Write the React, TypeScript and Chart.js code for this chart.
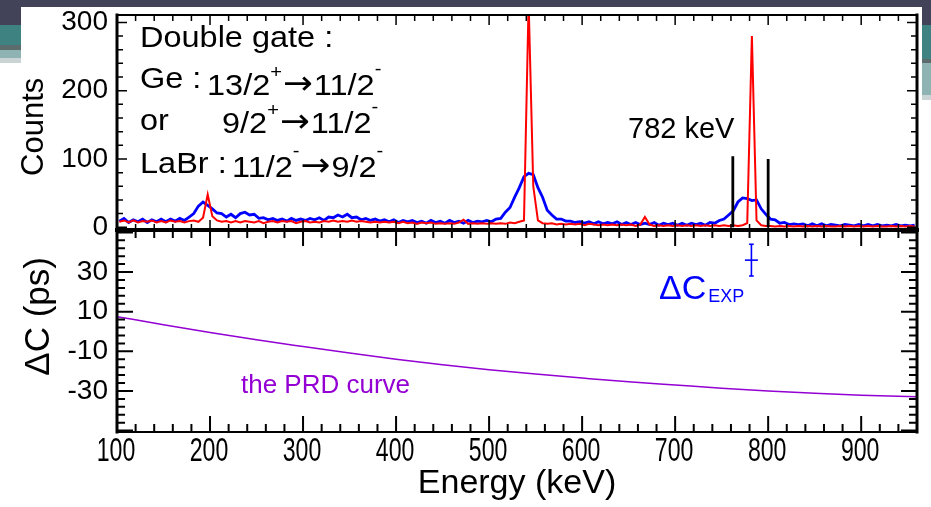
import React, { useEffect, useRef } from 'react';
import { Chart, registerables } from 'chart.js';

Chart.register(...registerables);

// ---------------- data ----------------
const BIN_START_KEV = 100;
const BIN_WIDTH_KEV = 5;

// LaBr-gated spectrum (blue), counts per 5 keV bin starting at 100 keV
const blueCounts = [
  9, 13, 7, 11, 8, 12, 7, 11, 8, 12,
  8, 12, 9, 13, 10, 15, 20, 31, 37, 32,
  27, 21, 20, 15, 19, 14, 20, 22, 18, 19,
  13, 14, 11, 13, 10, 12, 9, 13, 10, 12,
  10, 13, 11, 14, 10, 15, 14, 18, 15, 19,
  14, 15, 11, 13, 10, 12, 9, 11, 8, 11,
  7, 10, 8, 10, 7, 9, 6, 10, 7, 9,
  6, 10, 7, 9, 6, 10, 7, 9, 8, 10,
  8, 12, 13, 22, 29, 44, 58, 74, 79, 77,
  58, 44, 25, 18, 12, 12, 9, 9, 7, 8,
  6, 8, 5, 8, 5, 7, 5, 8, 4, 7,
  4, 7, 4, 6, 4, 7, 3, 6, 4, 6,
  3, 6, 3, 6, 4, 6, 3, 7, 6, 10,
  12, 18, 24, 37, 43, 42, 39, 40, 27, 19,
  12, 11, 6, 7, 4, 5, 4, 5, 2, 5,
  2, 5, 2, 4, 3, 2, 4, 3, 2, 4,
  2, 4, 2, 4, 2, 3, 2, 4, 2, 3,
  2, 3,
];

// Ge-gated spectrum (red), same binning
const redCounts = [
  8, 10, 7, 10, 7, 9, 8, 10, 7, 9,
  7, 10, 8, 9, 7, 9, 10, 8, 14, 48,
  16, 10, 8, 9, 7, 9, 7, 9, 8, 7,
  9, 6, 8, 9, 7, 9, 8, 9, 6, 8,
  9, 7, 8, 7, 9, 8, 10, 8, 9, 8,
  10, 8, 9, 8, 7, 8, 7, 8, 7, 8,
  6, 8, 6, 7, 5, 7, 6, 7, 5, 6,
  5, 6, 5, 7, 11, 5, 6, 5, 6, 5,
  6, 5, 6, 5, 7, 6, 8, 10, 330, 60,
  10, 6, 5, 6, 4, 5, 4, 5, 4, 5,
  3, 5, 4, 3, 4, 3, 4, 3, 4, 3,
  4, 2, 4, 15, 4, 2, 3, 2, 3, 2,
  3, 2, 3, 2, 3, 2, 3, 2, 3, 2,
  3, 2, 3, 2, 3, 6, 280, 10, 3, 2,
  2, 1, 2, 1, 2, 1, 2, 1, 2, 1,
  2, 1, 2, 1, 1, 2, 1, 2, 1, 2,
  1, 2, 1, 2, 1, 1, 2, 1, 2, 1,
  2, 1,
];

const energyTickValues = [100, 200, 300, 400, 500, 600, 700, 800, 900];
const countTickValues = [0, 100, 200, 300];
const deltaCTickValues = [-30, -10, 10, 30];

// gate markers around the 782 keV line
const gateEnergies = [762, 800];
const gateHeights = [104, 100];

// PRD curve
const prdEnergies = [100, 150, 200, 250, 300, 350, 400, 450, 500, 550, 600, 650, 700, 750, 800, 850, 900, 960];
const prdDeltaC = [7.5, 3.4, -0.5, -4.2, -7.6, -10.9, -14.0, -16.8, -19.3, -21.5, -23.5, -25.4, -27.0, -28.6, -30.0, -31.2, -32.1, -32.9];

// experimental point
const expEnergy = [782];
const expDeltaC = [36];
const expErrDeltaC = [8];
const expErrEnergy = [7];
const expCapHalf = 2.5;

const X_MIN = 100;
const X_MAX = 960;
const COUNTS_MIN = -4;
const COUNTS_MAX = 310.8;
const DC_MIN = -50.7;
const DC_MAX = 51.2;

// ---------------- styles ----------------
const SANS = "'Liberation Sans', Arial, Helvetica, sans-serif";
const ARROW_FONT = "'DejaVu Sans', 'Liberation Sans', sans-serif";
const W = 931;
const H = 507;
const PLOT_LEFT = 117;
const PLOT_RIGHT_PAD = 14;
const TOP_PANEL_TOP = 15;
const SPLIT_Y = 230;
const BOTTOM_AXIS_H = 75;

function drawText(ctx: CanvasRenderingContext2D, text: string, x: number, y: number, size: number, color: string, sx = 1, family = SANS, align: CanvasTextAlign = 'left', baseline: CanvasTextBaseline = 'alphabetic') {
  ctx.save();
  ctx.font = `${size}px ${family}`;
  ctx.fillStyle = color;
  ctx.textBaseline = baseline;
  ctx.textAlign = align;
  ctx.translate(x, y);
  ctx.scale(sx, 1);
  ctx.fillText(text, 0, 0);
  const w = ctx.measureText(text).width * sx;
  ctx.restore();
  return w;
}

type Part = { t: string; sup?: number; arrow?: boolean };
function drawFormula(ctx: CanvasRenderingContext2D, parts: Part[], x: number, y: number) {
  let cx = x;
  for (const p of parts) {
    if (p.sup) cx += drawText(ctx, p.t, cx, y - p.sup, 18, '#000', 1.12);
    else if (p.arrow) cx += drawText(ctx, p.t, cx + 1, y - 1, 33, '#000', 1.08, ARROW_FONT) + 2;
    else cx += drawText(ctx, p.t, cx, y, 29, '#000', 1.12);
  }
}

function drawFrame(chart: any, o: { yFrom: number; yTo: number; yStep: number; isMajor: (v: number) => boolean; major: number; minor: number; tickW: number; topW: number; bottomW: number }) {
  const { ctx, chartArea: a, scales } = chart;
  const xs = scales.x;
  const ys = scales.y;
  ctx.save();
  ctx.strokeStyle = '#000';
  ctx.lineWidth = o.tickW;
  ctx.beginPath();
  for (let e = X_MIN + 20; e < X_MAX; e += 20) {
    const px = xs.getPixelForValue(e);
    const len = e % 100 === 0 ? o.major : o.minor;
    ctx.moveTo(px, a.top);
    ctx.lineTo(px, a.top + len);
    ctx.moveTo(px, a.bottom);
    ctx.lineTo(px, a.bottom - len);
  }
  for (let v = o.yFrom; v <= o.yTo; v += o.yStep) {
    const py = ys.getPixelForValue(v);
    if (py < a.top + 1 || py > a.bottom - 1) continue;
    const len = o.isMajor(v) ? o.major : o.minor;
    ctx.moveTo(a.left, py);
    ctx.lineTo(a.left + len, py);
    ctx.moveTo(a.right, py);
    ctx.lineTo(a.right - len, py);
  }
  ctx.stroke();
  const line = (x1: number, y1: number, x2: number, y2: number, w: number) => {
    ctx.lineWidth = w;
    ctx.beginPath();
    ctx.moveTo(x1, y1);
    ctx.lineTo(x2, y2);
    ctx.stroke();
  };
  ctx.lineCap = 'square';
  if (o.topW) line(a.left, a.top, a.right, a.top, o.topW);
  if (o.bottomW) line(a.left, a.bottom, a.right, a.bottom, o.bottomW);
  line(a.left, a.top, a.left, a.bottom, 3);
  line(a.right, a.top, a.right, a.bottom, 3);
  ctx.restore();
}

const topPlugin = {
  id: 'topPanelDecor',
  afterDraw(chart: any) {
    const ctx: CanvasRenderingContext2D = chart.ctx;
    drawFrame(chart, {
      yFrom: 0, yTo: 300, yStep: 20, isMajor: (v) => v % 100 === 0,
      major: 10, minor: 6, tickW: 1.5, topW: 2, bottomW: 4,
    });
    drawText(ctx, 'Double gate :', 140, 46.5, 29, '#000', 1.12);
    drawText(ctx, 'Ge :', 140, 88, 29, '#000', 1.12);
    drawFormula(ctx, [{ t: '13/2' }, { t: '+', sup: 17 }, { t: '\u2192', arrow: true }, { t: '11/2' }, { t: '-', sup: 20 }], 207, 95);
    drawText(ctx, 'or', 140, 130, 29, '#000', 1.12);
    drawFormula(ctx, [{ t: '9/2' }, { t: '+', sup: 17 }, { t: '\u2192', arrow: true }, { t: '11/2' }, { t: '-', sup: 20 }], 222, 133);
    drawText(ctx, 'LaBr :', 140, 173, 29, '#000', 1.12);
    drawFormula(ctx, [{ t: '11/2' }, { t: '-', sup: 20 }, { t: '\u2192', arrow: true }, { t: '9/2' }, { t: '-', sup: 20 }], 232, 177);
    drawText(ctx, '782 keV', 628, 138, 29, '#000', 1);
  },
};

const bottomPlugin = {
  id: 'bottomPanelDecor',
  afterDraw(chart: any) {
    const ctx: CanvasRenderingContext2D = chart.ctx;
    drawFrame(chart, {
      yFrom: -50, yTo: 50, yStep: 4, isMajor: (v) => (v + 50) % 20 === 0,
      major: 16, minor: 8, tickW: 2, topW: 0, bottomW: 2,
    });
    // energy tick labels (condensed face, as in the original)
    const xs = chart.scales.x;
    const a = chart.chartArea;
    for (const e of energyTickValues) {
      drawText(ctx, String(e), xs.getPixelForValue(e) - 1, a.bottom + 19.5, 34, '#000', 0.68, SANS, 'center', 'middle');
    }
    const w = drawText(ctx, '\u0394C', 659, 299, 34, '#0000ff', 1);
    drawText(ctx, 'EXP', 659 + w + 2, 302, 18, '#0000ff', 1);
    drawText(ctx, 'the PRD curve', 241, 393, 26, '#9400d3', 1);
  },
};

function histPoints(counts: number[]) {
  return counts.map((c, i) => ({ x: BIN_START_KEV + BIN_WIDTH_KEV * (i + 0.5), y: c }));
}

function fixedY(width: number) {
  return (s: any) => {
    s.width = width;
    s.paddingTop = 0;
    s.paddingBottom = 0;
    s.paddingLeft = 0;
    s.paddingRight = 0;
  };
}

export default function App() {
  const topRef = useRef<HTMLCanvasElement | null>(null);
  const botRef = useRef<HTMLCanvasElement | null>(null);

  useEffect(() => {
    const lineBase = { pointRadius: 0, fill: false, borderCapStyle: 'butt' as const };

    const gateSets = gateEnergies.map((e, i) => ({
      ...lineBase,
      label: `gate ${e}`,
      data: [{ x: e, y: 0 }, { x: e, y: gateHeights[i] }],
      borderColor: '#000',
      borderWidth: 2.8,
    }));

    const top = new Chart(topRef.current as HTMLCanvasElement, {
      type: 'line',
      data: {
        datasets: [
          ...gateSets,
          { ...lineBase, label: 'Ge gate', data: histPoints(redCounts), borderColor: '#ff0000', borderWidth: 2, borderJoinStyle: 'miter' },
          { ...lineBase, label: 'LaBr gate', data: histPoints(blueCounts), borderColor: '#0000ff', borderWidth: 2.8 },
        ] as any,
      },
      options: {
        animation: false,
        responsive: false,
        events: [],
        layout: { padding: { top: TOP_PANEL_TOP, right: PLOT_RIGHT_PAD, bottom: H - SPLIT_Y, left: 0 } },
        plugins: { legend: { display: false }, tooltip: { enabled: false } },
        scales: {
          x: { type: 'linear', min: X_MIN, max: X_MAX, display: false },
          y: {
            type: 'linear', min: COUNTS_MIN, max: COUNTS_MAX,
            afterBuildTicks: (s: any) => { s.ticks = countTickValues.map((v) => ({ value: v })); },
            afterFit: fixedY(PLOT_LEFT),
            grid: { display: false, drawTicks: false },
            border: { display: false },
            ticks: { autoSkip: false, color: '#000', padding: 9, font: { family: SANS, size: 28, lineHeight: 1 }, callback: (v: any) => String(v) },
            title: { display: true, text: 'Counts ', color: '#000', font: { family: SANS, size: 31, lineHeight: 1 }, padding: { top: 19, bottom: 0 } },
          },
        },
      } as any,
      plugins: [topPlugin],
    });

    const ex = expEnergy[0];
    const ey = expDeltaC[0];
    const dy = expErrDeltaC[0];
    const dx = expErrEnergy[0];
    const errStyle = { ...lineBase, borderColor: '#0000ff', borderWidth: 1.6 };

    const bottom = new Chart(botRef.current as HTMLCanvasElement, {
      type: 'line',
      data: {
        datasets: [
          { ...errStyle, label: 'exp vertical', data: [{ x: ex, y: ey - dy }, { x: ex, y: ey + dy }] },
          { ...errStyle, label: 'exp horizontal', data: [{ x: ex - dx, y: ey }, { x: ex + dx, y: ey }] },
          { ...errStyle, label: 'exp cap top', data: [{ x: ex - expCapHalf, y: ey + dy }, { x: ex + expCapHalf, y: ey + dy }] },
          { ...errStyle, label: 'exp cap bottom', data: [{ x: ex - expCapHalf, y: ey - dy }, { x: ex + expCapHalf, y: ey - dy }] },
          {
            ...lineBase, label: 'PRD curve',
            data: prdEnergies.map((e, i) => ({ x: e, y: prdDeltaC[i] })),
            borderColor: '#9400d3', borderWidth: 1.5, cubicInterpolationMode: 'monotone',
          },
        ] as any,
      },
      options: {
        animation: false,
        responsive: false,
        events: [],
        layout: { padding: { top: SPLIT_Y, right: PLOT_RIGHT_PAD, bottom: 0, left: 0 } },
        plugins: { legend: { display: false }, tooltip: { enabled: false } },
        scales: {
          x: {
            type: 'linear', min: X_MIN, max: X_MAX,
            afterBuildTicks: (s: any) => { s.ticks = energyTickValues.map((v) => ({ value: v })); },
            afterFit: (s: any) => { s.height = BOTTOM_AXIS_H; s.paddingLeft = 0; s.paddingRight = 0; s.paddingTop = 0; s.paddingBottom = 0; },
            grid: { display: false, drawTicks: false },
            border: { display: false },
            ticks: { display: false },
            title: { display: true, text: 'Energy (keV)', color: '#000', font: { family: SANS, size: 34, lineHeight: 1 }, padding: { top: 0, bottom: 6 } },
          },
          y: {
            type: 'linear', min: DC_MIN, max: DC_MAX,
            afterBuildTicks: (s: any) => { s.ticks = deltaCTickValues.map((v) => ({ value: v })); },
            afterFit: fixedY(PLOT_LEFT),
            grid: { display: false, drawTicks: false },
            border: { display: false },
            ticks: { autoSkip: false, color: '#000', padding: 9, font: { family: SANS, size: 28, lineHeight: 1 }, callback: (v: any) => String(v) },
            title: { display: true, text: '   \u0394C (ps)', color: '#000', font: { family: SANS, size: 35, lineHeight: 1 }, padding: { top: 22, bottom: 0 } },
          },
        },
      } as any,
      plugins: [bottomPlugin],
    });

    return () => {
      top.destroy();
      bottom.destroy();
    };
  }, []);

  const band = (left: number, topPx: number, width: number, height: number, bg: string) => (
    <div style={{ position: 'absolute', left, top: topPx, width, height, background: bg }} />
  );

  return (
    <div style={{ position: 'absolute', left: 0, top: 0, width: W, height: H, background: '#ffffff', overflow: 'hidden' }}>
      {band(0, 0, W, 7, '#424258')}
      {band(0, 7, 21, 18, '#424258')}
      {band(0, 25, 21, 20, '#3e8282')}
      {band(0, 45, 21, 5, '#5c6b6b')}
      {band(0, 50, 21, 8, '#8fb3b3')}
      {band(0, 58, 21, 5, '#cbd4d4')}
      {band(922, 7, 9, 18, '#424258')}
      {band(922, 25, 9, 34, '#3e8282')}
      {band(922, 59, 9, 4, '#5c6b6b')}
      {band(922, 63, 9, 32, '#8fb3b3')}
      {band(922, 95, 9, 5, '#cbd4d4')}
      <canvas ref={topRef} width={W} height={H} style={{ position: 'absolute', left: 0, top: 0 }} />
      <canvas ref={botRef} width={W} height={H} style={{ position: 'absolute', left: 0, top: 0 }} />
    </div>
  );
}
